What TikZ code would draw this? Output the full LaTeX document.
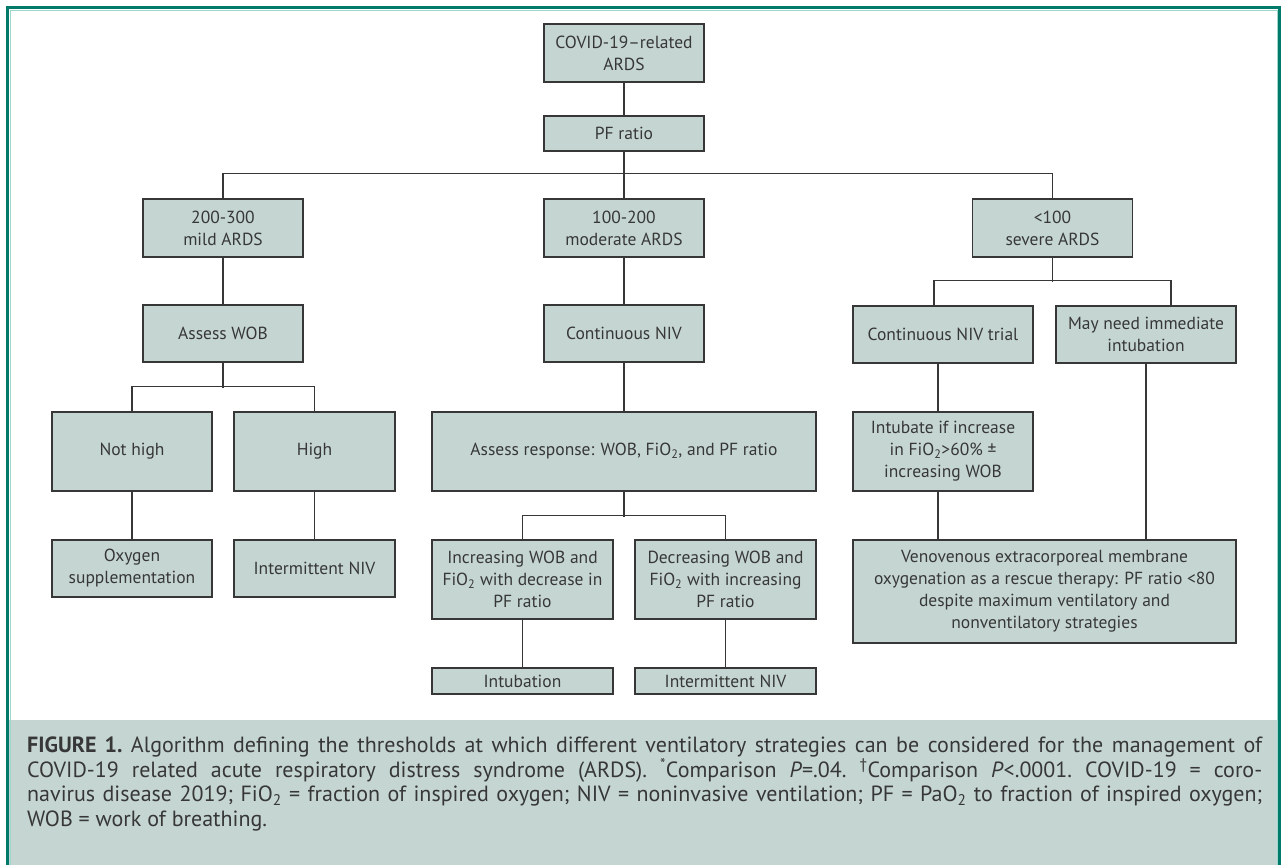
\documentclass[tikz,border=0pt]{standalone}
\usepackage{fontspec}
\setmainfont{PT Sans}
\usepackage{tikz}
\usetikzlibrary{positioning}

\definecolor{frameteal}{RGB}{0,122,107}
\definecolor{framelight}{RGB}{160,215,205}
\definecolor{boxfill}{RGB}{197,214,210}
\definecolor{boxline}{RGB}{55,55,55}
\definecolor{inktext}{RGB}{55,55,55}

\tikzset{
  box/.style={draw=boxline, fill=boxfill, line width=1.1pt, align=center,
    inner sep=0pt, text=inktext, font=\fontsize{17.5}{22}\selectfont},
  link/.style={draw=boxline, line width=1.1pt},
  legend/.style={anchor=north west, inner sep=0pt, text width=1235, align=justify,
    text=inktext, font=\fontsize{22}{24.5}\selectfont\frenchspacing},
}

\begin{document}
\begin{tikzpicture}[x=1pt, y=-1pt]
    \useasboundingbox (0,0) rectangle (1285,865);
    \fill[white] (0,0) rectangle (1285,865);
    \fill[boxfill] (9,720) rectangle (1278,865);
    \draw[framelight, line width=1pt] (10,865) -- (10,10) -- (1277,10) -- (1277,865);
    \draw[frameteal, line width=3pt] (7.5,865) -- (7.5,7.5) -- (1279.5,7.5) -- (1279.5,865);

    % top
    \node[box, minimum width=160, minimum height=58] (covid) at (624,53) {COVID-19--related\\ARDS};
    \node[box, minimum width=160, minimum height=35] (pf) at (624,133.5) {PF ratio};
    \node[box, minimum width=160, minimum height=58] (mild) at (223,228) {200-300\\mild ARDS};
    \node[box, minimum width=160, minimum height=58] (moderate) at (624,228) {100-200\\moderate ARDS};
    \node[box, minimum width=160, minimum height=58] (severe) at (1052.5,228) {<100\\severe ARDS};

    % mild branch
    \node[box, minimum width=160, minimum height=57] (assesswob) at (223,333.5) {Assess WOB};
    \node[box, minimum width=160, minimum height=79] (nothigh) at (132,451.5) {Not high};
    \node[box, minimum width=161, minimum height=79] (high) at (314.5,451.5) {High};
    \node[box, minimum width=160, minimum height=57] (oxygen) at (132,568.5) {Oxygen\\supplementation};
    \node[box, minimum width=161, minimum height=57] (intnivA) at (314.5,568.5) {Intermittent NIV};

    % moderate branch
    \node[box, minimum width=160, minimum height=57] (contniv) at (624,333.5) {Continuous NIV};
    \node[box, minimum width=384, minimum height=79] (response) at (624,451.5) {Assess response: WOB, FiO\textsubscript{2}, and PF ratio};
    \node[box, minimum width=181, minimum height=79] (incr) at (522.5,579.5) {Increasing WOB and\\FiO\textsubscript{2} with decrease in\\PF ratio};
    \node[box, minimum width=181, minimum height=79] (decr) at (725.5,579.5) {Decreasing WOB and\\FiO\textsubscript{2} with increasing\\PF ratio};
    \node[box, minimum width=181, minimum height=26] (intubation) at (522.5,681) {Intubation};
    \node[box, minimum width=181, minimum height=26] (intnivB) at (725.5,681) {Intermittent NIV};

    % severe branch
    \node[box, minimum width=180, minimum height=57] (trial) at (943,334.5) {Continuous NIV trial};
    \node[box, minimum width=180, minimum height=57] (maybe) at (1146,334.5) {May need immediate\\intubation};
    \node[box, minimum width=180, minimum height=79] (intubateif) at (943,451.5) {Intubate if increase\\in FiO\textsubscript{2}>60\% \textpm\\increasing WOB};
    \node[box, minimum width=383, minimum height=103] (ecmo) at (1044.5,591.5) {Venovenous extracorporeal membrane\\oxygenation as a rescue therapy: PF ratio <80\\despite maximum ventilatory and\\nonventilatory strategies};

    % connectors
    \draw[link] (covid) -- (pf);
    \draw[link] (pf) -- (moderate);
    \draw[link] (mild.north) -- ++(0,-25) -| (severe.north);
    \draw[link] (mild) -- (assesswob);
    \draw[link] (assesswob.south) -- ++(0,25);
    \draw[link] (nothigh.north) -- ++(0,-25) -| (high.north);
    \draw[link] (nothigh) -- (oxygen);
    \draw[link] (high) -- (intnivA);
    \draw[link] (moderate) -- (contniv);
    \draw[link] (contniv) -- (response);
    \draw[link] (response.south) -- ++(0,25);
    \draw[link] (incr.north) -- ++(0,-24) -| (decr.north);
    \draw[link] (incr) -- (intubation);
    \draw[link] (decr) -- (intnivB);
    \draw[link] (severe.south) -- ++(0,24);
    \draw[link] ([xshift=-9]trial.north) -- ++(0,-25) -| ([xshift=25]maybe.north);
    \draw[link] ([xshift=-5]trial.south) -- ([xshift=-5]intubateif.north);
    \draw[link] ([xshift=-5]intubateif.south) -- ([xshift=-5]intubateif.south |- ecmo.north);
    \draw[link] (maybe.south) -- (maybe.south |- ecmo.north);

    % caption
    \node[legend] (caption) at (27,737)
      {\textbf{FIGURE 1.} Algorithm defining the thresholds at which different ventilatory strategies can be considered for the management of\linebreak
      COVID-19 related acute respiratory distress syndrome (ARDS). \textsuperscript{*}Comparison \textit{P}=.04. \textsuperscript{\textdagger}Comparison \textit{P}<.0001. COVID-19 = coro-\linebreak
      navirus disease 2019; FiO\textsubscript{2} = fraction of inspired oxygen; NIV = noninvasive ventilation; PF = PaO\textsubscript{2} to fraction of inspired oxygen;\linebreak
      WOB = work of breathing.\par};
\end{tikzpicture}
\end{document}
